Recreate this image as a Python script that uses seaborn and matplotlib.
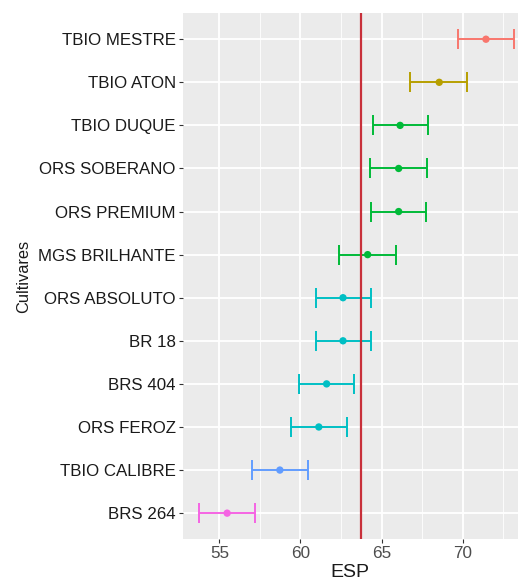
import matplotlib
matplotlib.use("Agg")
import matplotlib.pyplot as plt
import seaborn as sns
import pandas as pd
from matplotlib.ticker import MultipleLocator

cultivares = ["TBIO MESTRE", "TBIO ATON", "TBIO DUQUE", "ORS SOBERANO",
              "ORS PREMIUM", "MGS BRILHANTE", "ORS ABSOLUTO", "BR 18",
              "BRS 404", "ORS FEROZ", "TBIO CALIBRE", "BRS 264"]
esp_media = [71.43, 68.55, 66.14, 66.05, 66.05, 64.14, 62.62, 62.62,
             61.61, 61.13, 58.73, 55.48]
esp_inf = [69.70, 66.77, 64.45, 64.27, 64.33, 62.37, 60.95, 60.95,
           59.90, 59.41, 57.02, 53.73]
esp_sup = [73.14, 70.27, 67.83, 67.78, 67.74, 65.91, 64.33, 64.33,
           63.32, 62.85, 60.46, 57.22]
grupo = ["a", "b", "c", "c", "c", "c", "d", "d", "d", "d", "e", "f"]
media_geral = 63.7

cores = {"a": "#F8766D", "b": "#B79F00", "c": "#00BA38",
         "d": "#00BFC4", "e": "#619CFF", "f": "#F564E3"}

df = pd.DataFrame({"Cultivares": cultivares, "ESP": esp_media,
                   "inf": esp_inf, "sup": esp_sup, "grupo": grupo})

sns.set_theme(style="darkgrid", rc={
    "axes.facecolor": "#EBEBEB",
    "grid.color": "white",
    "axes.edgecolor": "#EBEBEB",
    "xtick.bottom": True, "ytick.left": True,
    "xtick.color": "#333333", "ytick.color": "#333333",
    "xtick.major.size": 3, "ytick.major.size": 3,
    "xtick.major.width": 0.8, "ytick.major.width": 0.8,
})
plt.rcParams["font.family"] = ["Liberation Sans", "DejaVu Sans"]

fig = plt.figure(figsize=(5.2, 5.81), dpi=100)
ax = fig.add_axes([0.3513, 0.0723, 0.6447, 0.9047])

# error bars per cultivar, coloured by group
for i, row in df.iterrows():
    ax.errorbar(x=row["ESP"], y=i,
                xerr=[[row["ESP"] - row["inf"]], [row["sup"] - row["ESP"]]],
                fmt="none", ecolor=cores[row["grupo"]], elinewidth=1.4,
                capsize=7, capthick=1.4, zorder=3)

sns.scatterplot(data=df, x="ESP", y="Cultivares", hue="grupo",
                palette=cores, s=28, edgecolor="none", legend=False,
                ax=ax, zorder=4)

ax.axvline(media_geral, color="#C8303A", linewidth=1.6, zorder=5)

ax.set_xlim(52.74, 73.4)
ax.set_ylim(len(cultivares) - 0.4, -0.6)
ax.xaxis.set_major_locator(MultipleLocator(5))
ax.xaxis.set_minor_locator(MultipleLocator(2.5))
ax.grid(which="major", color="white", linewidth=1.3)
ax.grid(which="minor", axis="x", color="white", linewidth=0.6)
ax.tick_params(axis="x", which="minor", length=0)
ax.tick_params(axis="x", labelsize=12.3, pad=2, labelcolor="#4D4D4D")
ax.tick_params(axis="y", labelsize=12.2, pad=2, labelcolor="#1A1A1A")
for s in ax.spines.values():
    s.set_visible(False)

ax.set_xlabel("ESP", fontsize=14, color="#1A1A1A", labelpad=2)
ax.set_ylabel("Cultivares", fontsize=11.8, color="#1A1A1A", labelpad=5)

fig.savefig("out.png", dpi=100, facecolor="white")
